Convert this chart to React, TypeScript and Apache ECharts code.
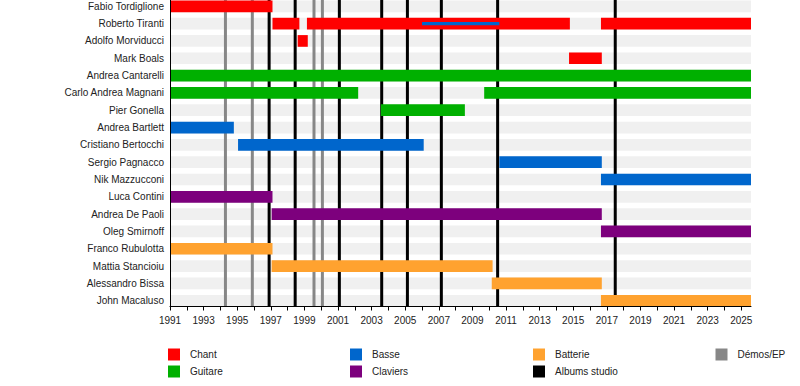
import React, { useEffect, useRef } from "react";
import * as echarts from "echarts";

const members = [
  "Fabio Tordiglione",
  "Roberto Tiranti",
  "Adolfo Morviducci",
  "Mark Boals",
  "Andrea Cantarelli",
  "Carlo Andrea Magnani",
  "Pier Gonella",
  "Andrea Bartlett",
  "Cristiano Bertocchi",
  "Sergio Pagnacco",
  "Nik Mazzucconi",
  "Luca Contini",
  "Andrea De Paoli",
  "Oleg Smirnoff",
  "Franco Rubulotta",
  "Mattia Stancioiu",
  "Alessandro Bissa",
  "John Macaluso",
];

const START = 1991;
const END = 2025.58;

// [member index, start, end]
const chantSpans = [
  [0, 1991, 1997.1],
  [1, 1997.1, 1998.7],
  [1, 1999.15, 2014.8],
  [1, 2016.65, END],
  [2, 1998.6, 1999.2],
  [3, 2014.75, 2016.7],
];
const guitareSpans = [
  [4, 1991, END],
  [5, 1991, 2002.2],
  [5, 2009.7, END],
  [6, 2003.55, 2008.55],
];
const basseSpans = [
  [7, 1991, 1994.8],
  [8, 1995.05, 2006.1],
  [9, 2010.6, 2016.7],
  [10, 2016.65, END],
];
const basseSecondary = [[1, 2006.0, 2010.6]];
const claviersSpans = [
  [11, 1991, 1997.1],
  [12, 1997.05, 2016.7],
  [13, 2016.65, END],
];
const batterieSpans = [
  [14, 1991, 1997.1],
  [15, 1997.05, 2010.2],
  [16, 2010.15, 2016.7],
  [17, 2016.65, END],
];

const demoYears = [1994.3, 1995.9, 1999.57, 2000.07];
const albumYears = [1996.9, 1998.45, 2001.08, 2003.6, 2005.13, 2007.15, 2010.5, 2017.5];

const tickYears: number[] = [];
for (let y = 1991; y <= 2025; y++) tickYears.push(y);
const labelYears = tickYears.filter((y) => (y - 1991) % 2 === 0);
const rowIndices = members.map((_, i) => i);

const legendNames = ["Chant", "Guitare", "Basse", "Claviers", "Batterie", "Albums studio", "Démos/EP"];

const COLORS: Record<string, string> = {
  Chant: "#ff0000",
  Guitare: "#00b000",
  Basse: "#0066cc",
  Claviers: "#7d007d",
  Batterie: "#ffa22f",
  "Albums studio": "#000000",
  "Démos/EP": "#878787",
};

const FONT = "'Liberation Sans', Arial, sans-serif";

function barSeries(name: string, data: number[][], color: string, frac: number, z: number) {
  return {
    type: "custom",
    name,
    z,
    silent: true,
    encode: { x: [1, 2], y: 0 },
    data,
    renderItem: (params: any, api: any) => {
      const row = api.value(0);
      const s = api.value(1);
      const e = api.value(2);
      const p1 = api.coord([s, row]);
      const p2 = api.coord([e, row]);
      const h = api.size([0, 1])[1] * frac;
      return {
        type: "rect",
        shape: { x: p1[0], y: p1[1] - h / 2, width: p2[0] - p1[0], height: h },
        style: { fill: color },
      };
    },
  };
}

function lineSeries(name: string, years: number[], color: string, z: number) {
  return {
    type: "custom",
    name,
    z,
    silent: true,
    encode: { x: 0, y: 1 },
    data: years.map((y) => [y, 0]),
    renderItem: (params: any, api: any) => {
      const x = api.coord([api.value(0), 0])[0];
      const cs = params.coordSys;
      return {
        type: "line",
        shape: { x1: x, y1: cs.y, x2: x, y2: cs.y + cs.height },
        style: { stroke: color, lineWidth: 3 },
      };
    },
  };
}

export default function App() {
  const ref = useRef<HTMLDivElement>(null);
  useEffect(() => {
    if (!ref.current) return;
    const chart = echarts.init(ref.current, null, { renderer: "svg" });

    const legendPos = [
      [168, 348.5],
      [168, 365.5],
      [350, 348.5],
      [350, 365.5],
      [533, 348.5],
      [533, 365.5],
      [715.5, 348.5],
    ];
    const graphics: any[] = [];
    legendNames.forEach((n, i) => {
      const [x, y] = legendPos[i];
      graphics.push({
        type: "rect",
        left: x,
        top: y,
        shape: { width: 12, height: 12 },
        style: { fill: COLORS[n] },
      });
      graphics.push({
        type: "text",
        left: x + 22,
        top: y + 0.5,
        style: { text: n, fill: "#222", font: `10px ${FONT}` },
      });
    });

    const bands = members.map((_, i) => [i, START, END]);

    chart.setOption({
      animation: false,
      backgroundColor: "#ffffff",
      grid: { left: 170, top: 0, width: 581, height: 306.5, containLabel: false },
      xAxis: {
        type: "value",
        z: 10,
        position: "bottom",
        min: START,
        max: END,
        axisLine: { show: true, onZero: false, lineStyle: { color: "#000", width: 1 } },
        axisTick: { show: true, length: 4, lineStyle: { color: "#000" }, customValues: tickYears },
        axisLabel: {
          customValues: labelYears,
          color: "#222",
          fontSize: 10,
          fontFamily: FONT,
          margin: 9,
          formatter: (v: number) => String(Math.round(v)),
        },
        splitLine: { show: false },
      },
      yAxis: {
        type: "value",
        z: 10,
        position: "left",
        inverse: true,
        min: -0.364,
        max: 17.333,
        axisLine: { show: true, onZero: false, lineStyle: { color: "#000", width: 1 } },
        axisTick: { show: false },
        axisLabel: {
          customValues: rowIndices,
          color: "#222",
          fontSize: 10,
          fontFamily: FONT,
          margin: 6,
          formatter: (v: number) => members[Math.round(v)] ?? "",
        },
        splitLine: { show: false },
      },
      graphic: graphics,
      series: [
        barSeries("bands", bands, "#f0f0f0", 0.675, 1),
        lineSeries("Démos/EP", demoYears, COLORS["Démos/EP"], 2),
        lineSeries("Albums studio", albumYears, COLORS["Albums studio"], 2),
        barSeries("Chant", chantSpans, COLORS.Chant, 0.675, 3),
        barSeries("Guitare", guitareSpans, COLORS.Guitare, 0.675, 3),
        barSeries("Basse", basseSpans, COLORS.Basse, 0.675, 3),
        barSeries("Claviers", claviersSpans, COLORS.Claviers, 0.675, 3),
        barSeries("Batterie", batterieSpans, COLORS.Batterie, 0.675, 3),
        barSeries("Basse (secondaire)", basseSecondary, COLORS.Basse, 0.2, 4),
      ],
    });
    return () => chart.dispose();
  }, []);
  return <div ref={ref} style={{ width: 800, height: 386, position: "absolute", left: 0, top: 0 }} />;
}
